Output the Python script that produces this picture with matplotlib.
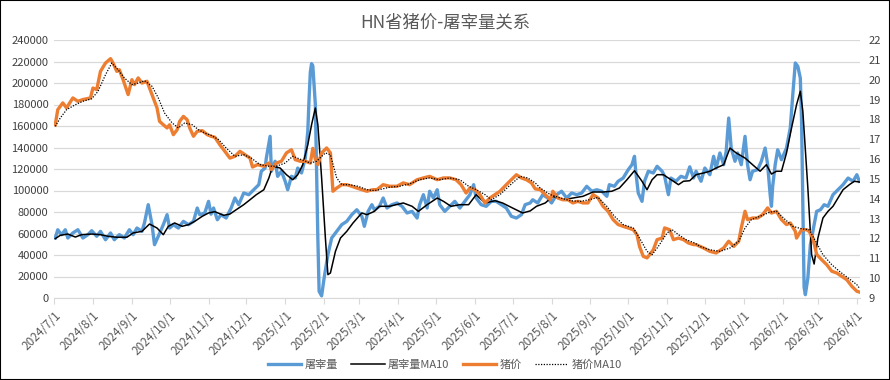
import matplotlib
matplotlib.use("Agg")
import matplotlib.pyplot as plt
import matplotlib.dates as mdates
import pandas as pd
from matplotlib.lines import Line2D
from matplotlib.patches import Rectangle

plt.rcParams['font.family'] = ['Noto Sans CJK SC', 'DejaVu Sans']

title = "HN省猪价-屠宰量关系"
legend_labels = ["屠宰量", "屠宰量MA10", "猪价", "猪价MA10"]

# ---- 屠宰量 (left axis) ----
vol_dates = ["2024-07-02","2024-07-04","2024-07-07","2024-07-10","2024-07-12","2024-07-16","2024-07-20","2024-07-24","2024-07-28","2024-07-31",
 "2024-08-04","2024-08-07","2024-08-11","2024-08-15","2024-08-18","2024-08-22","2024-08-26","2024-08-30","2024-09-02","2024-09-05",
 "2024-09-09","2024-09-11","2024-09-14","2024-09-17","2024-09-19","2024-09-22","2024-09-26","2024-09-29","2024-10-01","2024-10-04",
 "2024-10-08","2024-10-12","2024-10-16","2024-10-20","2024-10-23","2024-10-25","2024-10-29","2024-11-01","2024-11-03","2024-11-05",
 "2024-11-08","2024-11-11","2024-11-15","2024-11-19","2024-11-22","2024-11-25","2024-11-29","2024-12-03","2024-12-07","2024-12-11",
 "2024-12-13","2024-12-16","2024-12-17","2024-12-20","2024-12-21","2024-12-24","2024-12-26","2024-12-29","2025-01-01","2025-01-03",
 "2025-01-06","2025-01-09","2025-01-11","2025-01-14","2025-01-17","2025-01-19","2025-01-20","2025-01-21","2025-01-22","2025-01-23",
 "2025-01-25","2025-01-26","2025-01-27","2025-01-28","2025-01-30","2025-02-01","2025-02-04","2025-02-07","2025-02-11","2025-02-15",
 "2025-02-19","2025-02-23","2025-02-27","2025-03-03","2025-03-05","2025-03-08","2025-03-11","2025-03-13","2025-03-17","2025-03-20",
 "2025-03-23","2025-03-27","2025-03-31","2025-04-04","2025-04-08","2025-04-12","2025-04-16","2025-04-18","2025-04-21","2025-04-24",
 "2025-04-26","2025-04-29","2025-05-02","2025-05-04","2025-05-08","2025-05-12","2025-05-16","2025-05-20","2025-05-24","2025-05-28",
 "2025-05-31","2025-06-02","2025-06-06","2025-06-10","2025-06-14","2025-06-18","2025-06-22","2025-06-26","2025-06-30","2025-07-04",
 "2025-07-08","2025-07-11","2025-07-15","2025-07-17","2025-07-21","2025-07-25","2025-07-29","2025-08-01","2025-08-05","2025-08-09",
 "2025-08-13","2025-08-17","2025-08-21","2025-08-25","2025-08-29","2025-09-02","2025-09-06","2025-09-10","2025-09-14","2025-09-16",
 "2025-09-20","2025-09-23","2025-09-27","2025-10-01","2025-10-04","2025-10-06","2025-10-07","2025-10-09","2025-10-12","2025-10-14",
 "2025-10-17","2025-10-21","2025-10-24","2025-10-28","2025-10-30","2025-11-02","2025-11-04","2025-11-08","2025-11-12","2025-11-16",
 "2025-11-19","2025-11-22","2025-11-24","2025-11-28","2025-12-01","2025-12-05","2025-12-08","2025-12-10","2025-12-13","2025-12-16",
 "2025-12-18","2025-12-20","2025-12-22","2025-12-25","2025-12-27","2025-12-30","2026-01-02","2026-01-04","2026-01-06","2026-01-08",
 "2026-01-12","2026-01-15","2026-01-18","2026-01-20","2026-01-22","2026-01-23","2026-01-24","2026-01-26","2026-01-28","2026-01-31",
 "2026-02-04","2026-02-07","2026-02-09","2026-02-11","2026-02-13","2026-02-15","2026-02-16","2026-02-17","2026-02-18","2026-02-19",
 "2026-02-21","2026-02-23","2026-02-26","2026-02-28","2026-03-03","2026-03-06","2026-03-09","2026-03-13","2026-03-17","2026-03-21",
 "2026-03-25","2026-03-29","2026-04-01","2026-04-03"]
vol_values = [55800,63500,58900,63500,55800,60500,63500,55800,58900,62600,
 57400,62000,54200,60500,54200,58900,55800,63500,58900,65100,
 62000,69800,86800,68200,49600,57400,68200,77500,65100,68200,
 65100,71300,68200,71300,83700,77500,79100,89900,78000,83700,
 72800,77500,74400,83700,93000,86800,97700,96100,100700,105400,
 117900,120900,130200,150400,117900,127200,113200,117900,108600,100700,
 113200,111600,120900,116300,130200,155100,185000,210000,218000,216000,
 180000,118000,56000,6200,2000,18600,40300,55800,62000,68200,
 71300,77500,82100,76000,66700,80600,86800,82000,85300,93000,
 83700,86800,88400,85300,79100,80600,74400,86800,96100,83700,
 99300,93000,100700,86800,80600,85300,89900,83700,89900,96100,
 105400,93000,86800,85300,89900,89900,86800,83700,76000,74400,
 77500,86800,88400,91400,88400,96100,93000,88400,96100,99300,
 93000,97700,96100,97700,103900,99300,100700,99300,94600,105400,
 103900,108600,111600,119300,124000,131800,117900,97700,89900,108600,
 117900,116300,122500,117900,113200,96100,111600,108600,113200,111600,
 122000,111600,117900,108600,120900,114700,131800,120900,134900,124000,
 136500,167400,139500,127200,134900,124000,150400,124000,110000,117900,
 119300,127200,139500,124000,96100,85300,103900,124000,137900,128600,
 139500,158100,189100,218600,215500,204600,164400,86800,10000,3100,
 18600,49600,68200,80600,82100,86800,85300,96100,100700,105400,
 111600,108600,114700,108600]

# ---- 屠宰量MA10 (left axis) ----
vol_ma_dates = ["2024-07-02","2024-07-06","2024-07-12","2024-07-18","2024-07-23","2024-07-31","2024-08-07","2024-08-13","2024-08-20","2024-08-28",
 "2024-09-02","2024-09-09","2024-09-15","2024-09-21","2024-09-26","2024-09-30","2024-10-05","2024-10-11","2024-10-16","2024-10-21",
 "2024-10-27","2024-11-01","2024-11-06","2024-11-13","2024-11-18","2024-11-23","2024-11-29","2024-12-04","2024-12-09","2024-12-15",
 "2024-12-19","2024-12-22","2024-12-28","2025-01-02","2025-01-07","2025-01-11","2025-01-15","2025-01-19","2025-01-22","2025-01-25",
 "2025-01-27","2025-01-30","2025-02-02","2025-02-04","2025-02-06","2025-02-10","2025-02-14","2025-02-19","2025-02-24","2025-03-03",
 "2025-03-07","2025-03-13","2025-03-17","2025-03-25","2025-04-05","2025-04-12","2025-04-17","2025-04-24","2025-05-02","2025-05-07",
 "2025-05-13","2025-05-20","2025-05-27","2025-06-02","2025-06-09","2025-06-17","2025-06-23","2025-07-01","2025-07-09","2025-07-15",
 "2025-07-20","2025-07-27","2025-08-02","2025-08-10","2025-08-18","2025-08-26","2025-09-03","2025-09-11","2025-09-18","2025-09-24",
 "2025-09-30","2025-10-06","2025-10-12","2025-10-16","2025-10-20","2025-10-24","2025-10-29","2025-11-02","2025-11-06","2025-11-10",
 "2025-11-14","2025-11-19","2025-11-24","2025-11-30","2025-12-05","2025-12-10","2025-12-16","2025-12-21","2025-12-26","2026-01-02",
 "2026-01-08","2026-01-14","2026-01-19","2026-01-23","2026-01-27","2026-01-31","2026-02-04","2026-02-08","2026-02-12","2026-02-15",
 "2026-02-17","2026-02-21","2026-02-24","2026-02-26","2026-03-01","2026-03-05","2026-03-09","2026-03-13","2026-03-17","2026-03-21",
 "2026-03-26","2026-03-30","2026-04-03"]
vol_ma_values = [55200,58300,59500,56700,58900,59500,58900,57400,56500,56500,
 60500,62000,68800,65100,58900,66700,69800,66700,68200,71300,
 76000,79100,80300,76900,78100,82100,86800,91400,96100,100700,
 111600,122500,120900,114700,110000,114700,124000,142600,161200,176700,
 161200,111600,55800,21700,23300,43400,55800,62000,69800,79100,
 77500,80600,85300,85300,88400,85300,80600,86800,93000,89900,
 85300,86800,86800,96100,88400,90500,88400,83700,79100,81000,
 85300,88400,94600,91400,93000,94600,98600,98600,99300,102300,
 110000,118400,108600,100700,110000,114700,114700,111600,108600,105400,
 108600,109100,114700,116300,117900,120900,124000,139500,134900,130200,
 124000,117900,124000,115300,117900,117900,134900,158100,179800,192300,
 173700,102300,40300,31600,55800,74400,80600,85300,93000,100700,
 105400,108600,107900]

# ---- 猪价 (right axis) ----
price_dates = ["2024-07-02","2024-07-04","2024-07-08","2024-07-11","2024-07-16","2024-07-20","2024-07-24","2024-07-30","2024-08-01","2024-08-04",
 "2024-08-07","2024-08-11","2024-08-15","2024-08-17","2024-08-20","2024-08-22","2024-08-25","2024-08-29","2024-09-01","2024-09-03",
 "2024-09-06","2024-09-09","2024-09-13","2024-09-15","2024-09-18","2024-09-21","2024-09-23","2024-09-26","2024-09-29","2024-10-01",
 "2024-10-04","2024-10-07","2024-10-09","2024-10-12","2024-10-15","2024-10-17","2024-10-20","2024-10-23","2024-10-27","2024-10-31",
 "2024-11-03","2024-11-06","2024-11-10","2024-11-14","2024-11-18","2024-11-22","2024-11-26","2024-11-30","2024-12-04","2024-12-06",
 "2024-12-10","2024-12-15","2024-12-19","2024-12-21","2024-12-25","2024-12-29","2025-01-02","2025-01-06","2025-01-09","2025-01-13",
 "2025-01-17","2025-01-21","2025-01-23","2025-01-25","2025-01-27","2025-01-30","2025-02-03","2025-02-06","2025-02-08","2025-02-11",
 "2025-02-15","2025-02-19","2025-02-23","2025-02-27","2025-03-03","2025-03-07","2025-03-12","2025-03-15","2025-03-20","2025-03-25",
 "2025-03-31","2025-04-05","2025-04-10","2025-04-16","2025-04-21","2025-04-26","2025-05-02","2025-05-07","2025-05-12","2025-05-17",
 "2025-05-21","2025-05-25","2025-05-28","2025-06-01","2025-06-05","2025-06-09","2025-06-13","2025-06-17","2025-06-21","2025-06-26",
 "2025-06-30","2025-07-04","2025-07-08","2025-07-12","2025-07-16","2025-07-19","2025-07-23","2025-07-27","2025-07-31","2025-08-02",
 "2025-08-06","2025-08-10","2025-08-14","2025-08-18","2025-08-22","2025-08-26","2025-08-30","2025-09-03","2025-09-07","2025-09-11",
 "2025-09-15","2025-09-19","2025-09-23","2025-09-27","2025-10-01","2025-10-05","2025-10-08","2025-10-10","2025-10-13","2025-10-16",
 "2025-10-18","2025-10-21","2025-10-24","2025-10-28","2025-10-30","2025-11-03","2025-11-06","2025-11-10","2025-11-14","2025-11-18",
 "2025-11-22","2025-11-24","2025-11-30","2025-12-05","2025-12-10","2025-12-16","2025-12-20","2025-12-24","2025-12-28","2025-12-30",
 "2026-01-02","2026-01-04","2026-01-08","2026-01-12","2026-01-16","2026-01-20","2026-01-23","2026-01-27","2026-01-31","2026-02-04",
 "2026-02-07","2026-02-11","2026-02-12","2026-02-16","2026-02-20","2026-02-22","2026-02-25","2026-02-28","2026-03-04","2026-03-08",
 "2026-03-12","2026-03-16","2026-03-20","2026-03-24","2026-03-28","2026-04-01","2026-04-03"]
price_values = [17.73,18.49,18.83,18.58,19.08,18.91,19.00,19.08,19.58,19.50,
 20.42,20.84,21.06,20.84,20.42,20.50,20.00,19.25,20.00,19.75,
 20.09,19.83,19.92,19.58,19.08,18.58,17.90,17.73,17.57,17.73,
 17.23,17.48,17.90,18.15,17.98,17.57,17.15,17.40,17.43,17.23,
 17.15,17.10,16.72,16.39,16.05,16.14,16.39,16.22,16.05,15.60,
 15.72,15.64,15.80,15.47,15.80,15.89,16.31,16.47,15.97,15.89,
 15.89,15.80,16.54,16.00,15.72,16.31,16.56,16.31,14.38,14.54,
 14.71,14.71,14.63,14.54,14.46,14.38,14.46,14.46,14.71,14.63,
 14.63,14.80,14.71,14.96,15.05,15.13,14.96,15.05,15.05,14.96,
 14.71,14.29,14.54,14.46,14.21,13.79,14.04,14.21,14.38,14.71,
 14.96,15.21,15.05,14.96,14.80,14.50,14.46,14.21,13.95,14.38,
 14.04,13.95,13.95,13.79,13.87,13.79,13.79,14.21,14.04,13.62,
 13.37,12.95,12.70,12.61,12.53,12.44,12.19,11.60,11.10,11.02,
 11.18,11.43,11.94,12.02,12.53,12.44,11.94,12.02,11.94,11.77,
 11.69,11.69,11.52,11.35,11.27,11.52,11.86,11.60,11.86,12.53,
 13.37,12.95,13.03,13.03,13.20,13.54,13.28,13.37,12.95,12.70,
 12.78,12.36,12.02,12.44,12.44,12.36,12.02,11.20,10.93,10.68,
 10.35,10.26,10.09,9.92,9.59,9.34,9.30]

# ---- 猪价MA10 (right axis) ----
price_ma_dates = ["2024-07-02","2024-07-06","2024-07-11","2024-07-18","2024-07-24","2024-07-31","2024-08-05","2024-08-11","2024-08-16","2024-08-21",
 "2024-08-26","2024-09-01","2024-09-06","2024-09-11","2024-09-17","2024-09-22","2024-09-27","2024-10-03","2024-10-08","2024-10-13",
 "2024-10-19","2024-10-24","2024-10-29","2024-11-03","2024-11-09","2024-11-15","2024-11-22","2024-11-29","2024-12-05","2024-12-12",
 "2024-12-19","2024-12-25","2025-01-01","2025-01-07","2025-01-14","2025-01-21","2025-01-26","2025-02-02","2025-02-06","2025-02-11",
 "2025-02-15","2025-02-21","2025-02-28","2025-03-07","2025-03-13","2025-03-17","2025-03-25","2025-04-02","2025-04-10","2025-04-18",
 "2025-04-26","2025-05-04","2025-05-12","2025-05-20","2025-05-27","2025-06-02","2025-06-09","2025-06-14","2025-06-21","2025-06-28",
 "2025-07-07","2025-07-13","2025-07-19","2025-07-23","2025-07-31","2025-08-08","2025-08-16","2025-08-24","2025-08-31","2025-09-07",
 "2025-09-14","2025-09-20","2025-09-27","2025-10-05","2025-10-10","2025-10-16","2025-10-20","2025-10-25","2025-11-01","2025-11-05",
 "2025-11-10","2025-11-16","2025-11-23","2025-11-27","2025-12-05","2025-12-13","2025-12-21","2025-12-28","2026-01-02","2026-01-07",
 "2026-01-14","2026-01-22","2026-01-27","2026-02-03","2026-02-09","2026-02-16","2026-02-22","2026-02-28","2026-03-05","2026-03-12",
 "2026-03-18","2026-03-25","2026-04-01","2026-04-03"]
price_ma_values = [17.65,18.07,18.49,18.74,18.91,19.04,19.41,20.25,20.84,20.50,
 20.09,19.75,19.83,19.95,19.67,19.08,18.32,17.82,17.57,17.82,
 17.73,17.48,17.31,17.20,16.98,16.56,16.14,16.22,16.05,15.72,
 15.64,15.64,15.80,16.14,15.97,15.80,15.89,16.31,16.22,15.05,
 14.71,14.71,14.63,14.46,14.41,14.46,14.58,14.63,14.75,14.96,
 15.05,14.96,15.05,14.96,14.63,14.46,14.21,13.95,14.21,14.63,
 15.13,15.05,14.80,14.54,14.21,14.04,13.90,13.87,13.95,14.07,
 13.62,13.12,12.70,12.53,12.02,11.35,11.18,11.60,12.28,12.44,
 12.19,11.94,11.77,11.60,11.43,11.35,11.52,11.86,12.53,12.95,
 13.12,13.33,13.37,12.95,12.61,12.49,12.44,11.77,11.18,10.68,
 10.35,10.01,9.67,9.50]

left_ticks = list(range(0, 240001, 20000))
right_ticks = list(range(9, 23))

BLUE = "#5B9BD5"
ORANGE = "#ED7D31"
GRID = "#D9D9D9"
TXT = "#595959"

fig = plt.figure(figsize=(8.9, 3.8), dpi=100)
ax = fig.add_axes([54/890, 1-298/380, (860-54)/890, (298-40)/380])
ax2 = ax.twinx()

vd = pd.to_datetime(vol_dates)
vmd = pd.to_datetime(vol_ma_dates)
pd_ = pd.to_datetime(price_dates)
pmd = pd.to_datetime(price_ma_dates)

ax.plot(vd, vol_values, color=BLUE, lw=2.4, solid_joinstyle='round', zorder=3)
ax.plot(vmd, vol_ma_values, color="black", lw=1.1, zorder=4)
ax2.plot(pd_, price_values, color=ORANGE, lw=2.4, solid_joinstyle='round', zorder=3)
ax2.plot(pmd, price_ma_values, color="black", lw=0.9, ls=(0, (1, 1.2)), zorder=4)

ax.set_ylim(0, 240000)
ax.set_yticks(left_ticks)
ax.set_yticklabels([str(v) for v in left_ticks])
ax2.set_ylim(9, 22)
ax2.set_yticks(right_ticks)

ax.set_xlim(pd.Timestamp("2024-07-01"), pd.Timestamp("2026-04-03 12:00"))
ax.xaxis.set_major_locator(mdates.MonthLocator(bymonthday=1))
ax.xaxis.set_major_formatter(mdates.DateFormatter("%Y/%-m/%-d"))

ax.grid(axis='y', color=GRID, lw=0.9, zorder=0)
ax.set_axisbelow(True)
for a in (ax, ax2):
    for s in ("left", "right", "top"):
        a.spines[s].set_visible(False)
    a.spines["bottom"].set_color(GRID)
ax2.spines["bottom"].set_visible(False)

ax.tick_params(axis='y', length=0, labelsize=8, labelcolor="#404040", pad=4)
ax2.tick_params(axis='y', length=0, labelsize=8, labelcolor="#404040", pad=6)
ax.tick_params(axis='x', length=4, color=GRID, labelsize=8.5, labelcolor=TXT, pad=4)
for lab in ax.get_xticklabels():
    lab.set_rotation(45)
    lab.set_ha('right')
    lab.set_rotation_mode('anchor')

fig.text(0.5, 1-22/380, title, ha='center', va='center', fontsize=12.5, color=TXT)

handles = [Line2D([], [], color=BLUE, lw=2.4),
           Line2D([], [], color="black", lw=1.1),
           Line2D([], [], color=ORANGE, lw=2.4),
           Line2D([], [], color="black", lw=0.9, ls=(0, (1, 1.2)))]
fig.legend(handles, legend_labels, loc='center', bbox_to_anchor=(0.5, 1-365/380), ncol=4,
           frameon=False, fontsize=8, handlelength=3.0, columnspacing=1.2, handletextpad=0.3,
           labelcolor=TXT)

fig.patches.append(Rectangle((0, 0), 1, 1, transform=fig.transFigure, fill=False,
                             edgecolor="black", lw=1.5))

fig.savefig("out.png", dpi=100)
